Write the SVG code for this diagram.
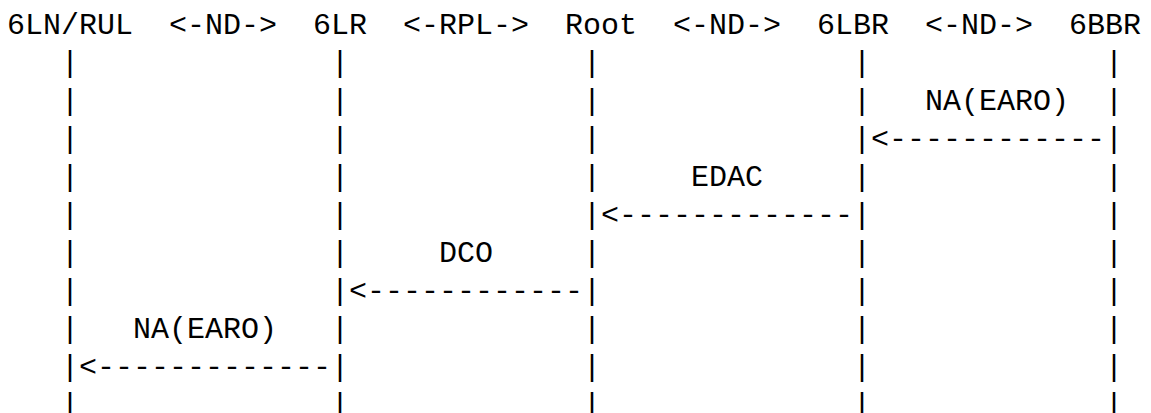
<svg xmlns="http://www.w3.org/2000/svg" width="1151" height="413" viewBox="0 0 1151 413">
<style>
.t{font-family:"Liberation Mono","DejaVu Sans Mono",monospace;font-size:30px;fill:#000;white-space:pre}
</style>
<rect width="1151" height="413" fill="#fff"/>
<g id="node-6LN"><text class="t" x="7" y="34">6LN/RUL</text></g>
<g id="node-6LR"><text class="t" x="313" y="34">6LR</text></g>
<g id="node-Root"><text class="t" x="565" y="34">Root</text></g>
<g id="node-6LBR"><text class="t" x="817" y="34">6LBR</text></g>
<g id="node-6BBR"><text class="t" x="1069" y="34">6BBR</text></g>
<g id="links">
<text class="t" x="169" y="34">&lt;-ND-&gt;</text>
<text class="t" x="403" y="34">&lt;-RPL-&gt;</text>
<text class="t" x="673" y="34">&lt;-ND-&gt;</text>
<text class="t" x="925" y="34">&lt;-ND-&gt;</text>
</g>
<g id="lifelines">
<text class="t"><tspan x="61" y="72">|</tspan><tspan x="61" y="110">|</tspan><tspan x="61" y="148">|</tspan><tspan x="61" y="186">|</tspan><tspan x="61" y="224">|</tspan><tspan x="61" y="262">|</tspan><tspan x="61" y="300">|</tspan><tspan x="61" y="338">|</tspan><tspan x="61" y="376">|</tspan><tspan x="61" y="414">|</tspan></text>
<text class="t"><tspan x="331" y="72">|</tspan><tspan x="331" y="110">|</tspan><tspan x="331" y="148">|</tspan><tspan x="331" y="186">|</tspan><tspan x="331" y="224">|</tspan><tspan x="331" y="262">|</tspan><tspan x="331" y="300">|</tspan><tspan x="331" y="338">|</tspan><tspan x="331" y="376">|</tspan><tspan x="331" y="414">|</tspan></text>
<text class="t"><tspan x="583" y="72">|</tspan><tspan x="583" y="110">|</tspan><tspan x="583" y="148">|</tspan><tspan x="583" y="186">|</tspan><tspan x="583" y="224">|</tspan><tspan x="583" y="262">|</tspan><tspan x="583" y="300">|</tspan><tspan x="583" y="338">|</tspan><tspan x="583" y="376">|</tspan><tspan x="583" y="414">|</tspan></text>
<text class="t"><tspan x="853" y="72">|</tspan><tspan x="853" y="110">|</tspan><tspan x="853" y="148">|</tspan><tspan x="853" y="186">|</tspan><tspan x="853" y="224">|</tspan><tspan x="853" y="262">|</tspan><tspan x="853" y="300">|</tspan><tspan x="853" y="338">|</tspan><tspan x="853" y="376">|</tspan><tspan x="853" y="414">|</tspan></text>
<text class="t"><tspan x="1105" y="72">|</tspan><tspan x="1105" y="110">|</tspan><tspan x="1105" y="148">|</tspan><tspan x="1105" y="186">|</tspan><tspan x="1105" y="224">|</tspan><tspan x="1105" y="262">|</tspan><tspan x="1105" y="300">|</tspan><tspan x="1105" y="338">|</tspan><tspan x="1105" y="376">|</tspan><tspan x="1105" y="414">|</tspan></text>
</g>
<g id="connectors">
<text class="t" x="925" y="110">NA(EARO)</text>
<text class="t" x="871" y="148">&lt;------------</text>
<text class="t" x="691" y="186">EDAC</text>
<text class="t" x="601" y="224">&lt;-------------</text>
<text class="t" x="439" y="262">DCO</text>
<text class="t" x="349" y="300">&lt;------------</text>
<text class="t" x="133" y="338">NA(EARO)</text>
<text class="t" x="79" y="376">&lt;-------------</text>
</g>
</svg>
